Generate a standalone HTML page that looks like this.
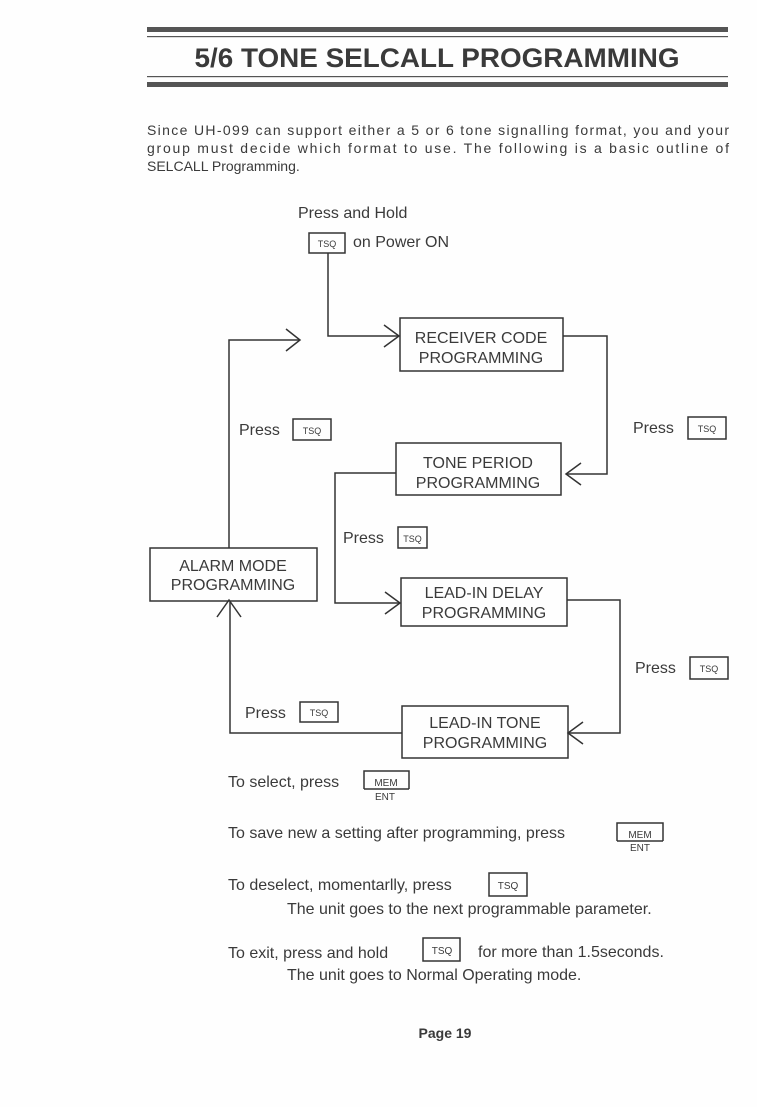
<!DOCTYPE html>
<html><head><meta charset="utf-8"><style>
html,body{margin:0;padding:0;background:#fff;}
svg{display:block;}
text{font-family:"Liberation Sans",sans-serif;fill:#3a3a3a;}
</style></head><body>
<svg width="757" height="1107" viewBox="0 0 757 1107" xmlns="http://www.w3.org/2000/svg">
<rect width="757" height="1107" fill="#fefefe"/>
<!-- title -->
<rect x="147" y="27" width="581" height="5" fill="#555"/>
<rect x="147" y="36" width="581" height="1.2" fill="#555"/>
<text x="437" y="67" text-anchor="middle" font-size="27" font-weight="bold" fill="#3d3d3d" textLength="485" lengthAdjust="spacingAndGlyphs">5/6 TONE SELCALL PROGRAMMING</text>
<rect x="147" y="76" width="581" height="1.2" fill="#555"/>
<rect x="147" y="82" width="581" height="5" fill="#555"/>
<!-- paragraph -->
<g font-size="14">
<text x="147" y="135" textLength="582" lengthAdjust="spacing">Since UH-099 can support either a 5 or 6 tone signalling format, you and your</text>
<text x="147" y="153" textLength="582" lengthAdjust="spacing">group must decide which format to use. The following is a basic outline of</text>
<text x="147" y="171">SELCALL Programming.</text>
</g>
<g font-size="16">
<text x="298" y="218">Press and Hold</text>
<text x="353" y="247">on Power ON</text>
</g>
<g fill="none" stroke="#333" stroke-width="1.5">
<rect x="309" y="233" width="36" height="20"/>
<!-- start line -->
<polyline points="328,253 328,336 398,336"/>
<polyline points="384,325 399,336 384,347"/>
<rect x="400" y="318" width="163" height="53"/>
<polyline points="563,336 607,336 607,474 567,474"/>
<polyline points="581,463 566,474 581,485"/>
<rect x="688" y="417" width="38" height="22"/>
<rect x="396" y="443" width="165" height="52"/>
<polyline points="396,473 335,473 335,603 399,603"/>
<polyline points="385,592 400,603 385,614"/>
<rect x="398" y="527" width="29" height="21"/>
<rect x="401" y="578" width="166" height="48"/>
<polyline points="567,600 620,600 620,733 569,733"/>
<polyline points="583,722 568,733 583,744"/>
<rect x="690" y="657" width="38" height="22"/>
<rect x="402" y="706" width="166" height="52"/>
<polyline points="402,733 230,733 230,602"/>
<polyline points="217,617 229,600 241,617"/>
<rect x="300" y="702" width="38" height="20"/>
<rect x="150" y="548" width="167" height="53"/>
<polyline points="229,548 229,340 300,340"/>
<polyline points="286,329 300,340 286,351"/>
<rect x="293" y="419" width="38" height="21"/>
</g>
<g font-size="16" text-anchor="middle">
<text x="481" y="343">RECEIVER CODE</text>
<text x="481" y="363">PROGRAMMING</text>
<text x="478" y="468">TONE PERIOD</text>
<text x="478" y="488">PROGRAMMING</text>
<text x="484" y="598">LEAD-IN DELAY</text>
<text x="484" y="618">PROGRAMMING</text>
<text x="485" y="728">LEAD-IN TONE</text>
<text x="485" y="748">PROGRAMMING</text>
<text x="233" y="571">ALARM MODE</text>
<text x="233" y="590">PROGRAMMING</text>
</g>
<g font-size="16">
<text x="239" y="435">Press</text>
<text x="633" y="433">Press</text>
<text x="343" y="543">Press</text>
<text x="635" y="673">Press</text>
<text x="245" y="718">Press</text>
</g>
<g font-size="9" text-anchor="middle">
<text x="327" y="247">TSQ</text>
<text x="312" y="434">TSQ</text>
<text x="707" y="432">TSQ</text>
<text x="412.5" y="542">TSQ</text>
<text x="709" y="672">TSQ</text>
<text x="319" y="716">TSQ</text>
</g>
<!-- bottom instructions -->
<g font-size="16">
<text x="228" y="787">To select, press</text>
<text x="228" y="838">To save new a setting after programming, press</text>
<text x="228" y="890">To deselect, momentarlly, press</text>
<text x="287" y="914">The unit goes to the next programmable parameter.</text>
<text x="228" y="958">To exit, press and hold</text>
<text x="478" y="957">for more than 1.5seconds.</text>
<text x="287" y="980">The unit goes to Normal Operating mode.</text>
</g>
<g fill="none" stroke="#333" stroke-width="1.5">
<polyline points="364,789 364,771 409,771 409,789"/>
<line x1="364" y1="789" x2="409" y2="789"/>
<polyline points="617,841 617,823 663,823 663,841"/>
<line x1="617" y1="841" x2="663" y2="841"/>
<rect x="489" y="873" width="38" height="23"/>
<rect x="423" y="938" width="37" height="23"/>
</g>
<g font-size="10" text-anchor="middle">
<text x="386" y="786">MEM</text>
<text x="385" y="800">ENT</text>
<text x="640" y="838">MEM</text>
<text x="640" y="851">ENT</text>
<text x="508" y="889">TSQ</text>
<text x="442" y="954">TSQ</text>
</g>
<text x="445" y="1038" font-size="14" font-weight="bold" text-anchor="middle">Page  19</text>
</svg>
</body></html>
